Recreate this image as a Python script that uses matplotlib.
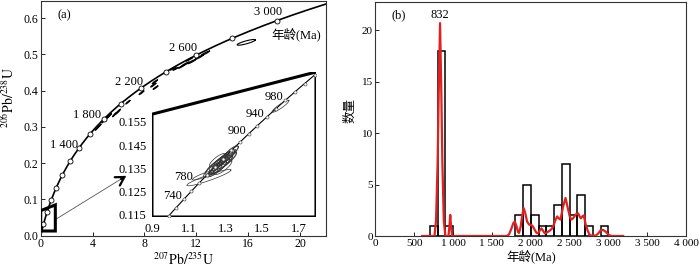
import numpy as np
import matplotlib
matplotlib.use("Agg")
import matplotlib.pyplot as plt
from matplotlib.patches import Polygon
from matplotlib.ticker import FormatStrFormatter

plt.rcParams['font.family'] = ['Liberation Serif', 'Noto Sans CJK SC']
plt.rcParams['mathtext.fontset'] = 'stix'

# decay constants (per Ma)
L238 = 1.55125e-4
L235 = 9.8485e-4

# concordia markers / labels
marker_ages = [200, 400, 600, 800, 1000, 1200, 1400, 1600, 1800, 2000,
               2200, 2400, 2600, 2800, 3000]
label_ages = [1400, 1800, 2200, 2600, 3000]
label_text = ["1 400", "1 800", "2 200", "2 600", "3 000"]
inset_marker_ages = [700, 720, 740, 760, 780, 800, 820, 840, 860, 880, 900,
                     920, 940, 960, 980, 1000, 1020, 1040]
inset_label_ages = [740, 780, 900, 940, 980]

# error ellipses, main panel
main_x = [15.85, 12.70, 12.22, 11.65, 11.15, 10.85, 11.45, 10.40, 10.20,
          8.80, 8.68, 8.85, 7.77, 6.72, 5.97, 5.70, 5.30, 5.12, 4.85, 4.50, 4.32]
main_sx = [0.70, 0.32, 0.30, 0.30, 0.28, 0.22, 0.25, 0.20, 0.22,
           0.20, 0.20, 0.18, 0.18, 0.16, 0.18, 0.16, 0.15, 0.15, 0.14, 0.14, 0.12]
main_y = [0.533, 0.503, 0.492, 0.480, 0.473, 0.466, 0.486, 0.460, 0.461,
          0.424, 0.415, 0.408, 0.394, 0.368, 0.342, 0.334, 0.331, 0.325, 0.316, 0.302, 0.295]
main_sy = [0.0079, 0.0061, 0.0057, 0.0058, 0.0055, 0.0045, 0.0050, 0.0040, 0.0045,
           0.0053, 0.0053, 0.0047, 0.0050, 0.0050, 0.0066, 0.0060, 0.0055, 0.0055, 0.0052, 0.0052, 0.0045]
main_rho = [0.85, 0.95, 0.95, 0.95, 0.95, 0.95, 0.95, 0.95, 0.95,
            0.95, 0.95, 0.95, 0.95, 0.95, 0.95, 0.95, 0.95, 0.95, 0.95, 0.95, 0.95]

# error ellipses, inset
ins_x = [1.225, 1.238, 1.248, 1.255, 1.262, 1.268, 1.275, 1.280, 1.288, 1.292,
         1.300, 1.306, 1.312, 1.320, 1.330, 1.258, 1.285, 1.318, 1.240,
         1.21, 1.19, 1.60]
ins_sx = [0.045, 0.05, 0.055, 0.05, 0.05, 0.055, 0.045, 0.06, 0.05, 0.045,
          0.05, 0.055, 0.045, 0.05, 0.04, 0.045, 0.05, 0.04, 0.04,
          0.12, 0.07, 0.046]
ins_y = [0.1342, 0.1355, 0.1362, 0.1348, 0.1372, 0.1360, 0.1380, 0.1368, 0.1388, 0.1376,
         0.1395, 0.1385, 0.1402, 0.1410, 0.1420, 0.1385, 0.1355, 0.1392, 0.1340,
         0.1310, 0.1322, 0.1617]
ins_sy = [0.0031, 0.0034, 0.0037, 0.0033, 0.0034, 0.0036, 0.0031, 0.0040, 0.0034, 0.0030,
          0.0034, 0.0037, 0.0030, 0.0034, 0.0028, 0.0029, 0.0032, 0.0027, 0.0027,
          0.0035, 0.0022, 0.0026]
ins_rho = [0.85, 0.85, 0.88, 0.85, 0.86, 0.85, 0.85, 0.88, 0.85, 0.85,
           0.86, 0.85, 0.85, 0.88, 0.85, 0.80, 0.80, 0.85, 0.85,
           0.93, 0.90, 0.92]

# histogram (100 Ma bins) and probability density curve
bin_left = [700, 800, 900, 1800, 1900, 2000, 2100, 2200, 2300, 2400, 2500, 2600, 2700, 2900]
counts = [1, 18, 1, 2, 5, 2, 1, 1, 3, 7, 2, 4, 1, 1]
kde_age = [600, 760, 780, 800, 815, 832, 848, 862, 880, 900, 940, 952, 963, 974, 988,
           1690, 1720, 1750, 1775, 1794, 1815, 1835, 1849, 1870, 1890, 1910, 1930, 1953,
           1980, 2009, 2030, 2052, 2075, 2095, 2118, 2138, 2160, 2181, 2210, 2245, 2270,
           2288, 2315, 2340, 2362, 2383, 2415, 2448, 2475, 2503, 2525, 2546, 2580, 2611,
           2630, 2645, 2665, 2684, 2705, 2731, 2755, 2783, 2840, 2870, 2900, 2930, 2968,
           3005, 3041, 3190]
kde_val = [0, 0, 1.5, 7, 14, 20.7, 14, 7, 1.5, 0, 0, 0.9, 2.05, 0.9, 0,
           0, 0.15, 0.7, 1.25, 1.4, 1.0, 0.4, 0.3, 0.9, 2.0, 2.7, 2.2, 1.4,
           1.1, 1.07, 0.9, 0.58, 0.3, 0.26, 0.55, 0.74, 0.5, 0.26, 0.35, 0.52, 0.7,
           0.9, 1.5, 1.9, 1.7, 1.6, 2.8, 3.7, 2.8, 1.88, 1.6, 1.72, 2.1, 2.2,
           1.9, 1.72, 1.9, 2.0, 1.2, 0.58, 0.15, 0.03, 0.05, 0.25, 0.55, 0.6, 0.4,
           0.1, 0.0, 0]

xtick_b = [0, 500, 1000, 1500, 2000, 2500, 3000, 3500, 4000]
xtick_b_lab = ["0", "500", "1 000", "1 500", "2 000", "2 500", "3 000", "3 500", "4 000"]


def conc(t):
    t = np.asarray(t, dtype=float)
    return np.exp(L235 * t) - 1, np.exp(L238 * t) - 1


def ellipse(x0, sx, y0, sy, rho):
    a = np.linspace(0, 2 * np.pi, 80)
    ex = x0 + sx * np.cos(a)
    ey = y0 + sy * (rho * np.cos(a) + np.sqrt(1 - rho ** 2) * np.sin(a))
    return ex, ey


def style_ax(ax, size):
    for s in ax.spines.values():
        s.set_linewidth(0.8)
        s.set_color("#333333")
    ax.tick_params(direction="in", length=3, width=0.6, labelsize=size, pad=2)


fig = plt.figure(figsize=(7, 2.7), dpi=100)

# ---------- (a) concordia ----------
ax1 = fig.add_axes([0.0581, 0.127, 0.4076, 0.870])
tt = np.linspace(0, 3250, 500)
cx, cy = conc(tt)
ax1.plot(cx, cy, color="black", lw=1.2, zorder=2)
mx, my = conc(marker_ages)
ax1.plot(mx, my, "o", ms=3.6, mfc="white", mec="black", mew=0.6, zorder=3)

lab_off = [(-1, 3), (-3, 4), (2, 6), (2, 7), (6, 9)]
lx, ly = conc(label_ages)
for i in range(len(label_ages)):
    ax1.annotate(label_text[i], (lx[i], ly[i]), xytext=lab_off[i],
                 textcoords="offset pixels", ha="right", va="center", fontsize=9)

for i in range(len(main_x)):
    ex, ey = ellipse(main_x[i], main_sx[i], main_y[i], main_sy[i], main_rho[i])
    ax1.plot(ex, ey, color="black", lw=0.8, zorder=2)

# small box near origin
box = Polygon([(0.0, 0.013), (1.13, 0.013), (1.13, 0.085), (0.0, 0.069)],
              closed=True, fill=False, lw=2.2, ec="black", zorder=4)
ax1.add_patch(box)
ax1.plot([1.2, 6.55], [0.046, 0.164], color="#555555", lw=0.6, zorder=3)
ax1.annotate("", xy=(6.6, 0.165), xytext=(6.2, 0.1562),
             arrowprops=dict(arrowstyle="->,head_length=0.6,head_width=0.35",
                             lw=1.6, color="black", shrinkA=0, shrinkB=0))

ax1.text(19.67, 0.556, "年龄(Ma)", fontsize=9, ha="center", va="center")
ax1.text(0.06, 0.94, "(a)", transform=ax1.transAxes, fontsize=9, va="center")

ax1.set_xlim(0, 22)
ax1.set_ylim(0, 0.6475)
ax1.set_xticks([0, 4, 8, 12, 16, 20])
ax1.set_yticks([0, 0.1, 0.2, 0.3, 0.4, 0.5, 0.6])
ax1.yaxis.set_major_formatter(FormatStrFormatter("%.1f"))
style_ax(ax1, 8.5)
ax1.set_xlabel(r"$^{207}\mathrm{Pb}/^{235}\mathrm{U}$", fontsize=10, labelpad=1)
ax1.set_ylabel(r"$^{206}\mathrm{Pb}/^{238}\mathrm{U}$", fontsize=10)
ax1.yaxis.set_label_coords(-0.084, 0.59)

# ---------- inset ----------
axi = fig.add_axes([0.2171, 0.1963, 0.2343, 0.537])
axi.set_xlim(0.9, 1.793)
axi.set_ylim(0.1141, 0.1764)
axi.patch.set_alpha(0)
for s in axi.spines.values():
    s.set_visible(False)
frame = Polygon([(0, 0), (1, 0), (1, 1), (0, 0.709)], closed=True,
                transform=axi.transAxes, fc="white", ec="black", lw=2.2, zorder=0)
axi.add_patch(frame)
ti = np.linspace(680, 1050, 300)
ix, iy = conc(ti)
axi.plot(ix, iy, color="black", lw=0.8, zorder=2)
imx, imy = conc(inset_marker_ages)
axi.plot(imx, imy, "o", ms=2.2, mfc="white", mec="#555555", mew=0.5, zorder=3)
for i in range(len(ins_x)):
    ex, ey = ellipse(ins_x[i], ins_sx[i], ins_y[i], ins_sy[i], ins_rho[i])
    axi.plot(ex, ey, color="#333333", lw=0.5, zorder=2)
ilx, ily = conc(inset_label_ages)
ins_off = [(-2, 3), (-6, 6), (-2, 3), (-2, 3), (-2, 3)]
for i in range(len(inset_label_ages)):
    axi.annotate(str(inset_label_ages[i]), (ilx[i], ily[i]), xytext=ins_off[i],
                 textcoords="offset pixels", ha="right", va="center", fontsize=9)
axi.set_xticks([0.9, 1.1, 1.3, 1.5, 1.7])
axi.set_yticks([0.115, 0.125, 0.135, 0.145, 0.155])
axi.xaxis.set_major_formatter(FormatStrFormatter("%.1f"))
axi.yaxis.set_major_formatter(FormatStrFormatter("%.3f"))
axi.tick_params(length=0, labelsize=9, pad=4)

# ---------- (b) histogram ----------
ax2 = fig.add_axes([0.5364, 0.1259, 0.4436, 0.8685])
ax2.bar(bin_left, counts, width=100, align="edge", fill=False,
        edgecolor="black", lw=1.1, zorder=2)
ax2.plot(kde_age, kde_val, color="#e32020", lw=1.6, zorder=3)
ax2.text(832, 20.9, "832", ha="center", va="bottom", fontsize=9)
ax2.text(0.052, 0.94, "(b)", transform=ax2.transAxes, fontsize=9, va="center")
ax2.set_xlim(0, 4000)
ax2.set_ylim(0, 22.8)
ax2.set_xticks(xtick_b)
ax2.set_xticklabels(xtick_b_lab)
ax2.set_yticks([0, 5, 10, 15, 20])
style_ax(ax2, 8)
ax2.set_xlabel("年龄(Ma)", fontsize=9, labelpad=1)
ax2.set_ylabel("数量", fontsize=9)
ax2.yaxis.set_label_coords(-0.06, 0.534)

fig.savefig("out.png", dpi=100)
